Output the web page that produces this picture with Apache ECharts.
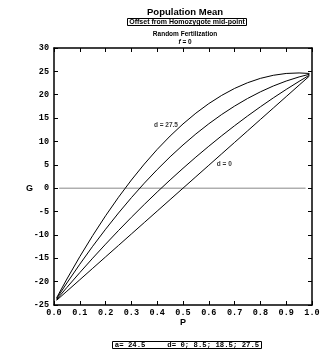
<!DOCTYPE html>
<html>
<head>
<meta charset="utf-8">
<script src="https://cdn.jsdelivr.net/npm/echarts@6/dist/echarts.min.js"></script>
<style>html,body{margin:0;padding:0;background:#fff}#c{width:330px;height:357px}</style>
</head>
<body>
<div id="c"></div>
<script>
var pValues = [0.01,0.05,0.1,0.15,0.2,0.25,0.3,0.35,0.4,0.45,0.5,0.55,0.6,0.65,0.7,0.75,0.8,0.85,0.9,0.95,0.99];
var gD0   = [-24.0,-22.05,-19.6,-17.15,-14.7,-12.25,-9.8,-7.35,-4.9,-2.45,0,2.45,4.9,7.35,9.8,12.25,14.7,17.15,19.6,22.05,24.0];
var gD85  = [-23.84,-21.24,-18.07,-14.98,-11.98,-9.06,-6.23,-3.48,-0.82,1.76,4.25,6.66,8.98,11.22,13.37,15.44,17.42,19.32,21.13,22.86,24.18];
var gD185 = [-23.64,-20.29,-16.27,-12.43,-8.78,-5.31,-2.03,1.07,3.98,6.71,9.25,11.61,13.78,15.77,17.57,19.19,20.62,21.87,22.93,23.81,24.38];
var gD275 = [-23.47,-19.44,-14.65,-10.14,-5.9,-1.94,1.75,5.16,8.3,11.16,13.75,16.06,18.1,19.86,21.35,22.56,23.5,24.16,24.55,24.66,24.55];
var zeroLineP = [0.02,0.975];
var zeroLineG = [0,0];
var curveLabels = [{p:0.434,g:13.5,text:'d = 27.5'},{p:0.66,g:5.2,text:'d = 0'}];

function pairs(xs, ys){ return xs.map(function(x,i){return [x, ys[i]];}); }

var chart = echarts.init(document.getElementById('c'), null, {renderer:'canvas'});
var mono = 'Liberation Mono';
var sans = 'Liberation Sans';
var curveStyle = {color:'#000', width:1};
function curve(data){
  return {type:'line', data:pairs(pValues,data), showSymbol:false, symbol:'none', lineStyle:curveStyle, smooth:false, silent:true, z:3};
}
function axisCommon(extra){
  var o = {axisLine:{show:true, onZero:false, lineStyle:{color:'#000', width:1.5}},
    axisTick:{show:true, inside:true, length:4, lineStyle:{color:'#000', width:1}},
    splitLine:{show:false}};
  for (var k in extra) o[k] = extra[k];
  return o;
}
chart.setOption({
  animation:false,
  backgroundColor:'#fff',
  title:[
    {text:'Population Mean', left:185, top:7, textAlign:'center', padding:0, textStyle:{fontFamily:sans, fontWeight:'bold', fontSize:9.5, color:'#000'}},
    {text:'Offset from Homozygote mid-point', left:185, top:18, textAlign:'center', borderColor:'#000', borderWidth:1, padding:[1,2,0,2], textStyle:{fontFamily:sans, fontWeight:'bold', fontSize:7, color:'#000'}},
    {text:'Random Fertilization', left:185, top:31, textAlign:'center', padding:0, textStyle:{fontFamily:sans, fontWeight:'bold', fontSize:6.5, color:'#000'}},
    {text:'{i|f} = 0', left:185, top:39, textAlign:'center', padding:0, textStyle:{fontFamily:sans, fontWeight:'bold', fontSize:6.5, color:'#000', rich:{i:{fontStyle:'italic', fontWeight:'bold', fontFamily:sans, fontSize:6.5}}}},
    {text:'G', left:26, top:184, padding:0, textStyle:{fontFamily:sans, fontWeight:'bold', fontSize:9, color:'#000'}},
    {text:'P', left:183, top:318, textAlign:'center', padding:0, textStyle:{fontFamily:sans, fontWeight:'bold', fontSize:9, color:'#000'}},
    {text:'a= 24.5     d= 0; 8.5; 18.5; 27.5', left:185, top:341, textAlign:'center', borderColor:'#000', borderWidth:1, padding:[1,2,0,2], textStyle:{fontFamily:mono, fontWeight:'bold', fontSize:7.3, color:'#000'}}
  ],
  grid:{left:54, right:18, top:48, bottom:52},
  xAxis:[
    axisCommon({type:'value', min:0, max:1, interval:0.1, position:'bottom',
     axisLabel:{formatter:function(v){return v.toFixed(1);}, fontFamily:mono, fontWeight:'bold', fontSize:8.5, color:'#000', margin:3}}),
    axisCommon({type:'value', min:0, max:1, interval:0.1, position:'top', axisLabel:{show:false}})
  ],
  yAxis:[
    axisCommon({type:'value', min:-25, max:30, interval:5, position:'left',
     axisLabel:{fontFamily:mono, fontWeight:'bold', fontSize:8.5, color:'#000', margin:5}}),
    axisCommon({type:'value', min:-25, max:30, interval:5, position:'right', axisLabel:{show:false}})
  ],
  series:[
    {type:'line', data:pairs(zeroLineP, zeroLineG), symbol:'none', lineStyle:{color:'#888', width:1}, silent:true, z:2},
    curve(gD0), curve(gD85), curve(gD185), curve(gD275),
    {type:'scatter', symbolSize:0, silent:true, z:4,
     data:curveLabels.map(function(l){return {value:[l.p,l.g], name:l.text};}),
     label:{show:true, position:'inside', formatter:function(p){return p.name;}, fontFamily:sans, fontWeight:'bold', fontSize:6.5, color:'#000'}}
  ]
});
</script>
</body>
</html>
